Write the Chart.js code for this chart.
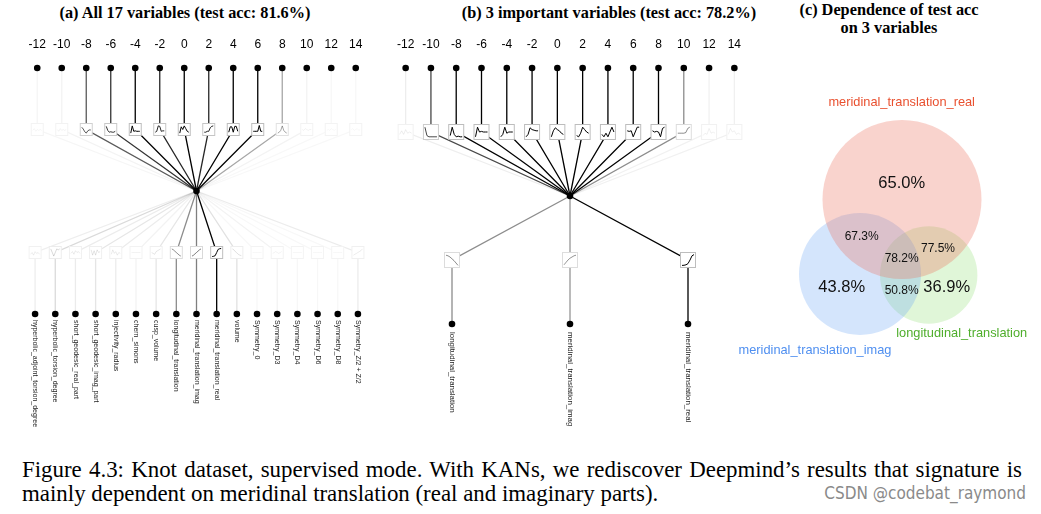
<!DOCTYPE html>
<html>
<head>
<meta charset="utf-8">
<script src="https://cdn.jsdelivr.net/npm/chart.js@4.4.0/dist/chart.umd.min.js"></script>
<style>
  body { margin: 0; background: #fff; width: 1041px; height: 514px; overflow: hidden; position: relative; }
  canvas { position: absolute; top: 0; }
  .ttl { position: absolute; font: bold 16.3px "Liberation Serif", "Times New Roman", serif; color: #000;
         text-align: center; white-space: nowrap; line-height: 18px; }
  .cap { position: absolute; left: 22px; width: 1000px; font: 22.9px "Liberation Serif", "Times New Roman", serif;
         line-height: 24px; white-space: nowrap; color: #000; }
  .mark { position: absolute; left: 800px; top: 483px; width: 226px; text-align: right;
          font: 17px "Liberation Sans Narrow", "DejaVu Sans Condensed", sans-serif; color: #8a8a8a; }
</style>
</head>
<body>
<div class="ttl" style="left:0;width:370px;top:4px">(a) All 17 variables (test acc: 81.6%)</div>
<div class="ttl" style="left:424px;width:370px;top:4px">(b) 3 important variables (test acc: 78.2%)</div>
<div class="ttl" style="left:739px;width:300px;top:1px">(c) Dependence of test acc<br>on 3 variables</div>

<canvas id="kanAll" width="380" height="440" style="left:0"></canvas>
<canvas id="kanKey" width="380" height="440" style="left:380px"></canvas>
<canvas id="venn" width="321" height="440" style="left:720px"></canvas>

<div class="cap" style="top:458px;text-align:justify;text-align-last:justify">Figure 4.3: Knot dataset, supervised mode. With KANs, we rediscover Deepmind’s results that signature is</div>
<div class="cap" style="top:482px">mainly dependent on meridinal translation (real and imaginary parts).</div>
<div class="mark">CSDN @codebat_raymond</div>

<script>
// output nodes (top row), same for both networks
var outputLabels = ['-12', '-10', '-8', '-6', '-4', '-2', '0', '2', '4', '6', '8', '10', '12', '14'];

// input variables
var allVariables = ['hyperbolic_adjoint_torsion_degree', 'hyperbolic_torsion_degree', 'short_geodesic_real_part',
  'short_geodesic_imag_part', 'injectivity_radius', 'chern_simons', 'cusp_volume', 'longitudinal_translation',
  'meridinal_translation_imag', 'meridinal_translation_real', 'volume', 'Symmetry_0', 'Symmetry_D3',
  'Symmetry_D4', 'Symmetry_D6', 'Symmetry_D8', 'Symmetry_Z/2 + Z/2'];
var keyVariables = ['longitudinal_translation', 'meridinal_translation_imag', 'meridinal_translation_real'];

var allTopStrength = [0.04, 0.05, 0.65, 0.8, 1, 0.85, 1, 0.85, 1, 1, 0.35, 0.05, 0.03, 0.03];
var allBottomStrength = [0.07, 0.15, 0.08, 0.1, 0.08, 0.05, 0.1, 0.45, 0.5, 1, 0.12, 0.03, 0.05, 0.03, 0.03, 0.03, 0.08];
var keyTopStrength = [0.07, 0.72, 1, 1, 1, 1, 1, 1, 1, 1, 1, 0.45, 0.06, 0.06];
var keyBottomStrength = [0.45, 0.42, 1];

// activation shapes in the little boxes (0 = bottom, 1 = top)
var allTopCurves = [
  [0.4, 0.6, 0.3, 0.5, 0.4, 0.5, 0.4],
  [0.5, 0.3, 0.6, 0.4, 0.5, 0.4, 0.5],
  [0.75, 0.55, 0.25, 0.1, 0.35, 0.45, 0.45],
  [0.85, 0.4, 0.2, 0.25, 0.2, 0.2, 0.3],
  [0.1, 0.9, 0.3, 0.35, 0.3, 0.3, 0.3],
  [0.2, 0.3, 0.9, 0.85, 0.3, 0.35, 0.35],
  [0.1, 0.8, 0.5, 0.9, 0.6, 0.3, 0.2],
  [0.2, 0.2, 0.3, 0.3, 0.7, 0.85, 0.9],
  [0.2, 0.8, 0.8, 0.2, 0.85, 0.85, 0.3],
  [0.3, 0.3, 0.3, 0.3, 0.95, 0.3, 0.3],
  [0.1, 0.2, 0.4, 0.9, 0.4, 0.2, 0.1],
  [0.5, 0.4, 0.6, 0.5, 0.4, 0.5, 0.5],
  [0.4, 0.5, 0.4, 0.6, 0.5, 0.4, 0.5],
  [0.5, 0.6, 0.4, 0.5, 0.6, 0.4, 0.5]
];
var allBottomCurves = [
  [0.3, 0.5, 0.2, 0.6, 0.4, 0.5, 0.3],
  [0.9, 0.5, 0.1, 0.5, 0.9, 0.8, 0.9],
  [0.4, 0.6, 0.3, 0.7, 0.5, 0.6, 0.4],
  [0.8, 0.2, 0.7, 0.2, 0.8, 0.5, 0.6],
  [0.3, 0.8, 0.4, 0.6, 0.2, 0.5, 0.4],
  [0.5, 0.5, 0.5, 0.5, 0.5, 0.5, 0.5],
  [0.5, 0.4, 0.3, 0.6, 0.7, 0.8, 0.9],
  [0.9, 0.8, 0.65, 0.5, 0.35, 0.2, 0.1],
  [0.1, 0.2, 0.35, 0.5, 0.65, 0.8, 0.9],
  [0.05, 0.08, 0.15, 0.5, 0.85, 0.92, 0.95],
  [0.9, 0.8, 0.6, 0.45, 0.3, 0.2, 0.15],
  [0.5, 0.5, 0.5, 0.5, 0.5, 0.5, 0.5],
  [0.4, 0.5, 0.6, 0.5, 0.4, 0.5, 0.6],
  [0.5, 0.5, 0.5, 0.5, 0.5, 0.5, 0.5],
  [0.5, 0.5, 0.5, 0.5, 0.5, 0.5, 0.5],
  [0.5, 0.5, 0.5, 0.5, 0.5, 0.5, 0.5],
  [0.2, 0.3, 0.4, 0.5, 0.6, 0.7, 0.9]
];
var keyTopCurves = [
  [0.3, 0.6, 0.3, 0.7, 0.4, 0.5, 0.4],
  [0.9, 0.2, 0.1, 0.1, 0.1, 0.1, 0.1],
  [0.2, 0.9, 0.3, 0.1, 0.15, 0.1, 0.1],
  [0.1, 0.9, 0.5, 0.55, 0.5, 0.5, 0.5],
  [0.1, 0.3, 0.9, 0.4, 0.5, 0.5, 0.5],
  [0.1, 0.3, 0.85, 0.7, 0.65, 0.6, 0.6],
  [0.1, 0.6, 0.85, 0.7, 0.6, 0.4, 0.3],
  [0.2, 0.1, 0.4, 0.9, 0.7, 0.5, 0.4],
  [0.3, 0.1, 0.4, 0.1, 0.5, 0.9, 0.5],
  [0.6, 0.55, 0.6, 0.1, 0.5, 0.9, 0.9],
  [0.6, 0.5, 0.55, 0.5, 0.1, 0.8, 0.9],
  [0.4, 0.4, 0.4, 0.4, 0.45, 0.8, 0.9],
  [0.2, 0.4, 0.3, 0.8, 0.4, 0.5, 0.4],
  [0.3, 0.8, 0.5, 0.6, 0.3, 0.4, 0.3]
];
var keyBottomCurves = [
  [0.9, 0.85, 0.75, 0.6, 0.45, 0.25, 0.05],
  [0.1, 0.3, 0.5, 0.65, 0.75, 0.85, 0.9],
  [0.05, 0.06, 0.1, 0.2, 0.5, 0.85, 0.95]
];

// venn: test acc using each subset of the 3 variables
var vennSets = ['meridinal_translation_real', 'meridinal_translation_imag', 'longitudinal_translation'];
var vennSingle = [65.0, 43.8, 36.9];
var vennPair = [67.3, 77.5, 50.8];   // real+imag, real+long, imag+long
var vennAll = 78.2;

function pos(i, n) { return (i + 0.5) / n; }
function ink(s) { return 'rgba(0,0,0,' + s + ')'; }

// little activation boxes + labels, placed through the chart scales
var kanDecor = {
  id: 'kanDecor',
  afterDatasetsDraw: function (chart) {
    var o = chart.options.plugins.kanDecor;
    var xs = chart.scales.x, ys = chart.scales.y, ctx = chart.ctx;
    function box(cx, cy, s, curve) {
      var w = o.box, h = o.box, m = 2;
      var l = cx - w / 2, t = cy - h / 2;
      ctx.fillStyle = '#fff';
      ctx.fillRect(l, t, w, h);
      ctx.strokeStyle = ink(0.04 + 0.22 * s);
      ctx.lineWidth = 1;
      ctx.strokeRect(l + 0.5, t + 0.5, w - 1, h - 1);
      ctx.beginPath();
      curve.forEach(function (v, k) {
        var px = l + m + (w - 2 * m) * k / (curve.length - 1);
        var py = t + h - m - (h - 2 * m) * v;
        if (k === 0) ctx.moveTo(px, py); else ctx.lineTo(px, py);
      });
      ctx.strokeStyle = ink(s);
      ctx.lineWidth = 1;
      ctx.stroke();
    }
    ctx.save();
    o.topCurves.forEach(function (c, i) {
      box(xs.getPixelForValue(pos(i, o.topCurves.length)), ys.getPixelForValue(1.5), o.topStrength[i], c);
    });
    o.bottomCurves.forEach(function (c, j) {
      box(xs.getPixelForValue(pos(j, o.bottomCurves.length)), ys.getPixelForValue(0.5), o.bottomStrength[j], c);
    });
    ctx.fillStyle = '#000';
    ctx.font = '12px "Liberation Sans", Arial, sans-serif';
    ctx.textAlign = 'center';
    ctx.textBaseline = 'middle';
    outputLabels.forEach(function (lab, i) {
      ctx.fillText(lab, xs.getPixelForValue(pos(i, outputLabels.length)), ys.getPixelForValue(2) - 23);
    });
    ctx.font = o.varFont + 'px "Liberation Sans", Arial, sans-serif';
    ctx.fillStyle = '#222';
    o.variables.forEach(function (lab, j) {
      ctx.save();
      ctx.translate(xs.getPixelForValue(pos(j, o.variables.length)), ys.getPixelForValue(0) + o.varGap);
      ctx.rotate(Math.PI / 2);
      ctx.textAlign = 'left';
      ctx.fillText(lab, 0, 0);
      ctx.restore();
    });
    ctx.restore();
  }
};

function kanChart(id, variables, topStrength, bottomStrength, topCurves, bottomCurves, look) {
  var nTop = outputLabels.length, nBot = variables.length;
  var nodes = [];
  outputLabels.forEach(function (l, i) { nodes.push({ x: pos(i, nTop), y: 2 }); });
  nodes.push({ x: 0.5, y: 1 });
  variables.forEach(function (v, j) { nodes.push({ x: pos(j, nBot), y: 0 }); });

  var datasets = [{
    data: nodes, showLine: false, pointRadius: 3.3, pointBackgroundColor: '#000', pointBorderWidth: 0, clip: false
  }];
  topStrength.forEach(function (s, i) {
    var x = pos(i, nTop);
    datasets.push({ data: [{ x: x, y: 2 }, { x: x, y: 1.5 }, { x: 0.5, y: 1 }], borderColor: ink(s) });
  });
  bottomStrength.forEach(function (s, j) {
    var x = pos(j, nBot);
    datasets.push({ data: [{ x: x, y: 0 }, { x: x, y: 0.5 }, { x: 0.5, y: 1 }], borderColor: ink(s) });
  });
  datasets.slice(1).forEach(function (d) {
    d.showLine = true; d.pointRadius = 0; d.borderWidth = 1.3; d.clip = false;
  });

  return new Chart(document.getElementById(id), {
    type: 'scatter',
    data: { datasets: datasets },
    plugins: [kanDecor],
    options: {
      responsive: false,
      animation: false,
      events: [],
      layout: { padding: look.padding },
      scales: {
        x: { type: 'linear', display: false, min: 0, max: 1 },
        y: { type: 'linear', display: false, min: 0, max: 2 }
      },
      plugins: {
        legend: { display: false },
        tooltip: { enabled: false },
        kanDecor: {
          variables: variables, topStrength: topStrength, bottomStrength: bottomStrength,
          topCurves: topCurves, bottomCurves: bottomCurves,
          box: look.box, varFont: look.varFont, varGap: look.varGap
        }
      }
    }
  });
}

kanChart('kanAll', allVariables, allTopStrength, allBottomStrength, allTopCurves, allBottomCurves,
  { padding: { left: 25, right: 12, top: 68, bottom: 126 }, box: 13, varFont: 7, varGap: 6 });
kanChart('kanKey', keyVariables, keyTopStrength, keyBottomStrength, keyTopCurves, keyBottomCurves,
  { padding: { left: 13, right: 13, top: 68, bottom: 116 }, box: 16, varFont: 7.9, varGap: 8 });

// ---- venn ----
var vennLayout = {
  circles: [{ x: 182, y: 199.5, r: 79.5 }, { x: 140, y: 274, r: 61 }, { x: 208.7, y: 275, r: 48.7 }],
  fills: ['rgba(235,110,90,0.3)', 'rgba(100,160,245,0.28)', 'rgba(140,220,110,0.27)'],
  nameColors: ['#e9502f', '#4f8ff0', '#4fae2c'],
  names: [{ x: 181.7, y: 102 }, { x: 95, y: 350 }, { x: 241.7, y: 333.5 }],
  single: [{ x: 181.7, y: 183 }, { x: 121.7, y: 287.5 }, { x: 226.7, y: 287.5 }],
  pair: [{ x: 141.7, y: 236.7 }, { x: 218, y: 249 }, { x: 181.7, y: 291 }],
  all: { x: 181.7, y: 259 }
};

var vennText = {
  id: 'vennText',
  afterDatasetsDraw: function (chart) {
    var xs = chart.scales.x, ys = chart.scales.y, ctx = chart.ctx;
    function put(p, txt, size, color) {
      ctx.font = size + 'px "Liberation Sans", Arial, sans-serif';
      ctx.fillStyle = color;
      ctx.fillText(txt, xs.getPixelForValue(p.x), ys.getPixelForValue(p.y));
    }
    ctx.save();
    ctx.textAlign = 'center';
    ctx.textBaseline = 'middle';
    vennSets.forEach(function (n, k) { put(vennLayout.names[k], n, 12.8, vennLayout.nameColors[k]); });
    vennSingle.forEach(function (v, k) { put(vennLayout.single[k], v.toFixed(1) + '%', 16.5, '#111'); });
    vennPair.forEach(function (v, k) { put(vennLayout.pair[k], v.toFixed(1) + '%', 12, '#111'); });
    put(vennLayout.all, vennAll.toFixed(1) + '%', 12, '#111');
    ctx.restore();
  }
};

new Chart(document.getElementById('venn'), {
  type: 'scatter',
  data: {
    datasets: vennSets.map(function (name, k) {
      return {
        label: name,
        data: [{ x: vennLayout.circles[k].x, y: vennLayout.circles[k].y }],
        pointRadius: function (c) {
          var s = c.chart.scales.x;
          return s.getPixelForValue(vennLayout.circles[k].r) - s.getPixelForValue(0);
        },
        pointBackgroundColor: vennLayout.fills[k],
        pointBorderWidth: 0,
        clip: false
      };
    })
  },
  plugins: [vennText],
  options: {
    responsive: false,
    animation: false,
    events: [],
    layout: { padding: 0 },
    scales: {
      x: { type: 'linear', display: false, min: 0, max: 321 },
      y: { type: 'linear', display: false, min: 0, max: 440, reverse: true }
    },
    plugins: { legend: { display: false }, tooltip: { enabled: false } }
  }
});
</script>
</body>
</html>
